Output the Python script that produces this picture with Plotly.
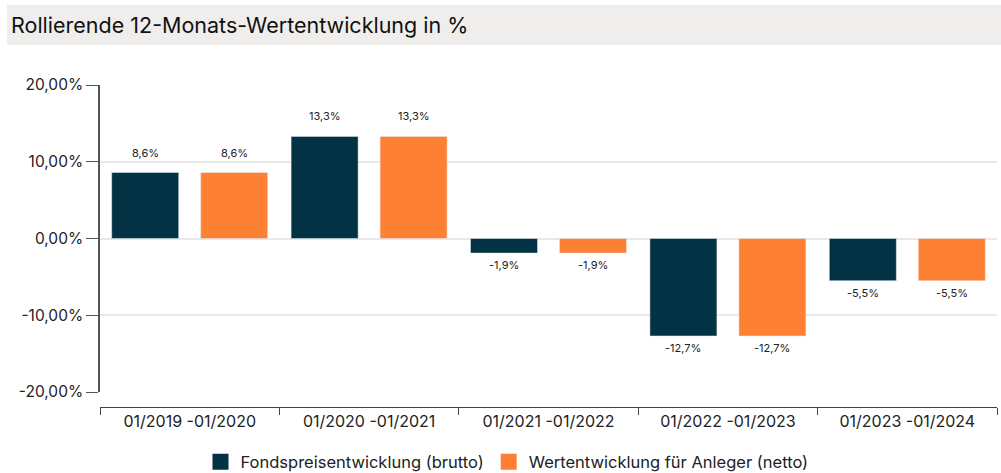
import plotly.graph_objects as go

categories = ["01/2019 -01/2020", "01/2020 -01/2021", "01/2021 -01/2022", "01/2022 -01/2023", "01/2023 -01/2024"]
brutto = [8.6, 13.3, -1.9, -12.7, -5.5]
netto = [8.6, 13.3, -1.9, -12.7, -5.5]
brutto_labels = ["8,6%", "13,3%", "-1,9%", "-12,7%", "-5,5%"]
netto_labels = ["8,6%", "13,3%", "-1,9%", "-12,7%", "-5,5%"]
series_names = ["Fondspreisentwicklung (brutto)", "Wertentwicklung für Anleger (netto)"]
y_tickvals = [-20, -10, 0, 10, 20]
y_ticktext = ["-20,00%", "-10,00%", "0,00%", "10,00%", "20,00%"]
title_text = "Rollierende 12-Monats-Wertentwicklung in %"

DARK = "#033245"
ORANGE = "#FE8133"
FONT = "Inter"

L, R, T, B = 100, 4, 85, 66
W, H = 1001, 473
PW = W - L - R
PH = H - T - B

fig = go.Figure()
fig.add_trace(go.Bar(x=categories, y=brutto, marker_color=DARK, name=series_names[0], showlegend=False))
fig.add_trace(go.Bar(x=categories, y=netto, marker_color=ORANGE, name=series_names[1], showlegend=False))
# legend entries
fig.add_trace(go.Scatter(x=[None], y=[None], mode="markers", marker=dict(symbol="square", size=20, color=DARK), name=series_names[0]))
fig.add_trace(go.Scatter(x=[None], y=[None], mode="markers", marker=dict(symbol="square", size=20, color=ORANGE), name=series_names[1]))

annotations = []
for vals, labs, shift in [(brutto, brutto_labels, -44.5), (netto, netto_labels, 44.5)]:
    for c, v, t in zip(categories, vals, labs):
        annotations.append(dict(x=c, y=v, xref="x", yref="y", text=t, showarrow=False,
                                xshift=shift, yshift=(20 if v >= 0 else -12),
                                font=dict(family=FONT, size=11, color="#222")))

annotations.append(dict(x=(9 - L) / PW, y=(T + PH - 25) / PH, xref="paper", yref="paper",
                        text=title_text, showarrow=False, xanchor="left", yanchor="middle",
                        font=dict(family=FONT, size=21.5, color="#111")))

fig.update_layout(
    width=W, height=H,
    margin=dict(l=L, r=R, t=T, b=B, autoexpand=False),
    plot_bgcolor="white", paper_bgcolor="white",
    barmode="group", bargap=0.008, bargroupgap=0.247,
    font=dict(family=FONT, size=15, color="#222"),
    annotations=annotations,
    shapes=[dict(type="rect", xref="paper", yref="paper",
                 x0=(7 - L) / PW, x1=(W - L) / PW,
                 y0=(T + PH - 45) / PH, y1=(T + PH - 5) / PH,
                 fillcolor="#EFEEEC", line=dict(width=0), layer="below")],
    legend=dict(orientation="h", x=(507 - L) / PW, xanchor="center",
                y=(PH - (462 - T)) / PH, yanchor="middle",
                font=dict(family=FONT, size=16.5, color="#222"), itemsizing="trace"),
    xaxis=dict(type="category", anchor="free", position=0, showline=True, linecolor="#444", linewidth=1,
               ticks="outside", tickson="boundaries", ticklen=7, tickcolor="#444", automargin=False,
               showgrid=False, tickfont=dict(family=FONT, size=16, color="#222")),
    yaxis=dict(range=[-20, 20], domain=[15 / PH, 1], tickvals=y_tickvals, ticktext=y_ticktext,
               showline=True, linecolor="#555", linewidth=1.5, ticks="outside", ticklen=12, tickcolor="#555",
               automargin=False,
               showgrid=True, gridcolor="#E8E8E8", gridwidth=1.5, zeroline=True, zerolinecolor="#E8E8E8",
               zerolinewidth=1.5, tickfont=dict(family=FONT, size=15.5, color="#222")),
)

fig.write_html("out.html", config={"displayModeBar": False},
               post_script="document.body.style.margin='0';document.body.style.overflow='hidden';")
